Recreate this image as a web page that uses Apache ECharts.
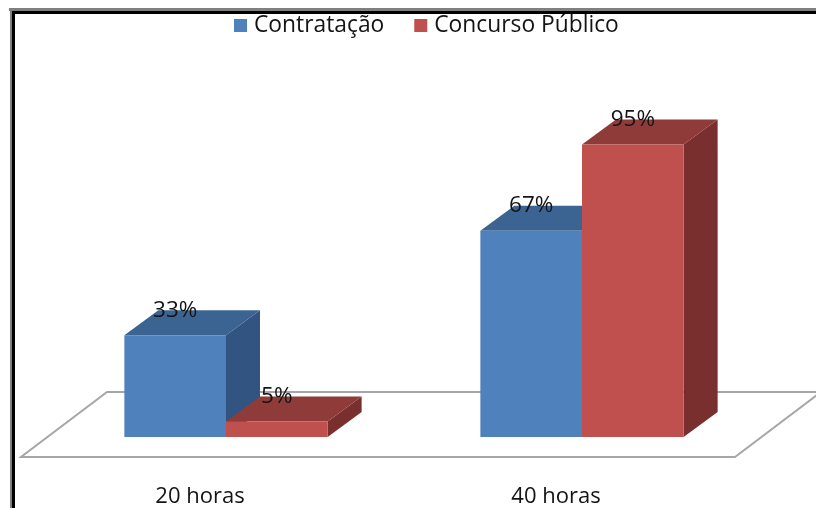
<!DOCTYPE html>
<html><head><meta charset="utf-8">
<style>html,body{margin:0;padding:0;background:#fff}#c{width:816px;height:508px}</style>
<script src="https://cdn.jsdelivr.net/npm/echarts@6/dist/echarts.min.js"></script>
</head><body><div id="c"></div>
<script>
const categories = ['20 horas', '40 horas'];
const seriesNames = ['Contratação', 'Concurso Público'];
const contratacao = [33, 67];
const concursoPublico = [5, 95];

const FONT = '"Open Sans", "Noto Sans", sans-serif';
const DX = 34, DY = 25;
const chart = echarts.init(document.getElementById('c'));

function barSeries(name, values, offsetSign, front, top, side) {
  return {
    name, type: 'custom', color: front, clip: false, z: offsetSign < 0 ? 3 : 4,
    data: values.map((v, i) => [i, v]),
    encode: { x: 0, y: 1 },
    renderItem(params, api) {
      const w = api.size([1, 0])[0] * 0.2855;
      const c = api.coord([api.value(0), api.value(1)]);
      const b = api.coord([api.value(0), 0]);
      const x0 = offsetSign < 0 ? c[0] - w : c[0];
      const x1 = x0 + w, yt = c[1], yb = b[1];
      const poly = (points, fill) => ({ type: 'polygon', shape: { points }, style: { fill } });
      return { type: 'group', children: [
        poly([[x1, yt], [x1 + DX, yt - DY], [x1 + DX, yb - DY], [x1, yb]], side),
        poly([[x0, yt], [x0 + DX, yt - DY], [x1 + DX, yt - DY], [x1, yt]], top),
        poly([[x0, yt], [x1, yt], [x1, yb], [x0, yb]], front),
        { type: 'text', z2: 10, style: { text: api.value(1) + '%', x: (x0 + x1) / 2, y: yt - DY,
          align: 'center', verticalAlign: 'middle', fill: '#141414', font: '22.5px ' + FONT } }
      ]};
    }
  };
}

chart.setOption({
  animation: false,
  backgroundColor: '#fff',
  grid: { left: 48, right: 56, top: 129, bottom: 71 },
  legend: {
    left: 234, top: 14, itemWidth: 13, itemHeight: 13, itemGap: 30, icon: 'rect', padding: 0,
    data: seriesNames,
    textStyle: { fontFamily: FONT, fontSize: 22.8, color: '#141414', padding: [0, 0, 0, 2] }
  },
  xAxis: { type: 'category', data: categories,
    axisLine: { show: false }, axisTick: { show: false },
    axisLabel: { margin: 49, padding: [0, 52, 0, 0], fontFamily: FONT, fontSize: 22, color: '#141414' } },
  yAxis: { type: 'value', min: 0, max: 100, show: false },
  graphic: [
    { type: 'rect', shape: { x: 9, y: 8, width: 807, height: 3 }, style: { fill: '#808080' }, z: 100 },
    { type: 'rect', shape: { x: 10, y: 8, width: 2, height: 500 }, style: { fill: '#808080' }, z: 100 },
    { type: 'rect', shape: { x: 12, y: 11, width: 804, height: 3 }, style: { fill: '#000' }, z: 100 },
    { type: 'rect', shape: { x: 12, y: 11, width: 3, height: 497 }, style: { fill: '#000' }, z: 100 }
  ],
  series: [
    {
      type: 'custom', name: 'floor', silent: true, clip: false, z: 1,
      data: [[0, 0]], encode: { x: 0, y: 1 },
      renderItem(params, api) {
        const cs = params.coordSys, y0 = api.coord([0, 0])[1];
        const l = cs.x, r = cs.x + cs.width;
        return { type: 'polygon', shape: { points: [
          [l - 27, y0 + 20], [r - 25, y0 + 20], [r + 61, y0 - 45], [l + 59, y0 - 45]
        ]}, style: { fill: '#fff', stroke: '#a6a6a6', lineWidth: 2 } };
      }
    },
    barSeries(seriesNames[0], contratacao, -1, '#4F81BD', '#3C6493', '#325480'),
    barSeries(seriesNames[1], concursoPublico, 1, '#C0504D', '#8E3B39', '#782F2D')
  ]
});
</script></body></html>
